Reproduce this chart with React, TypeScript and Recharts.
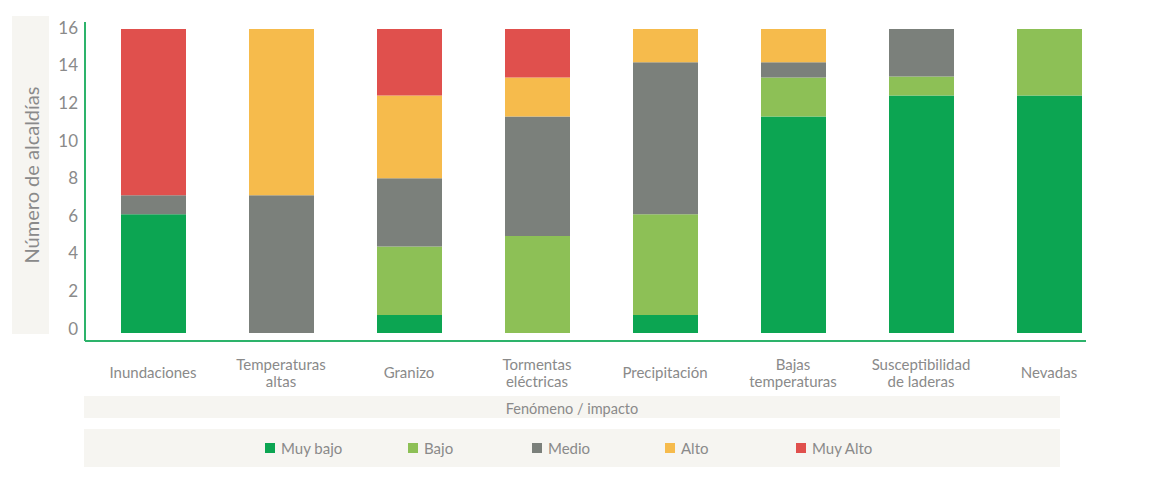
import React from "react";
import { BarChart, Bar, XAxis, YAxis, Legend } from "recharts";

// ---- data ----
const categories = [
  "Inundaciones",
  "Temperaturas\naltas",
  "Granizo",
  "Tormentas\neléctricas",
  "Precipitación",
  "Bajas\ntemperaturas",
  "Susceptibilidad\nde laderas",
  "Nevadas",
];
const muyBajo = [6.25, 0, 0.95, 0, 0.95, 11.4, 12.5, 12.5];
const bajo = [0, 0, 3.6, 5.1, 5.3, 2.05, 1.0, 3.5];
const medio = [1.0, 7.25, 3.6, 6.3, 8.0, 0.8, 2.5, 0];
const alto = [0, 8.75, 4.35, 2.05, 1.75, 1.75, 0, 0];
const muyAlto = [8.75, 0, 3.5, 2.55, 0, 0, 0, 0];
const seriesNames = ["Muy bajo", "Bajo", "Medio", "Alto", "Muy Alto"];
const yTicks = [0, 2, 4, 6, 8, 10, 12, 14, 16];
const yAxisTitle = "Número de alcaldías";
const xAxisTitle = "Fenómeno / impacto";

// ---- styles ----
const COLORS = ["#0ca552", "#8dc056", "#7b807b", "#f6bb4c", "#e0504d"];
const AXIS_GREEN = "#2db36b";
const BAND = "#f6f5f1";
const TEXT = "#8a8a8a";
const FONT = "Lato, 'Open Sans', sans-serif";
const LEGEND_OFFSETS = [181, 324, 448, 581, 712];

const data = categories.map((c, i) => ({
  name: c,
  muyBajo: muyBajo[i],
  bajo: bajo[i],
  medio: medio[i],
  alto: alto[i],
  muyAlto: muyAlto[i],
}));
const keys = ["muyBajo", "bajo", "medio", "alto", "muyAlto"];

const XTick = (props: any) => {
  const { x, y, payload } = props;
  const lines = String(payload.value).split("\n");
  const lh = 17;
  const first = y + 31 - ((lines.length - 1) * lh) / 2;
  return (
    <text x={x} y={first} textAnchor="middle" fill={TEXT} fontSize={15} fontFamily={FONT} dominantBaseline="central">
      {lines.map((l, i) => (
        <tspan key={i} x={x} y={first + i * lh}>
          {l}
        </tspan>
      ))}
    </text>
  );
};

const YTick = (props: any) => {
  const { x, y, payload } = props;
  const v = Number(payload.value);
  return (
    <text x={x} y={y - 5 + 0.2 * v} textAnchor="end" fill={TEXT} fontSize={17} fontFamily={FONT} dominantBaseline="central">
      {payload.value}
    </text>
  );
};

const YLabel = () => {
  const cy = 167;
  return (
    <g>
      <rect x={4} y={8} width={37} height={318} fill={BAND} />
      <text
        x={23}
        y={cy}
        transform={`rotate(-90, 23, ${cy})`}
        textAnchor="middle"
        dominantBaseline="central"
        fill={TEXT}
        fontSize={20}
        fontFamily={FONT}
      >
        {yAxisTitle}
      </text>
    </g>
  );
};

const XLabel = (props: any) => {
  const vb = props.viewBox || { x: 77, y: 333, width: 1001, height: 88 };
  const bx = vb.x - 1;
  const by = vb.y + 55;
  return (
    <g>
      <rect x={bx} y={by} width={976} height={22} fill={BAND} />
      <text x={bx + 488} y={by + 12} textAnchor="middle" dominantBaseline="central" fill={TEXT} fontSize={14.5} fontFamily={FONT}>
        {xAxisTitle}
      </text>
    </g>
  );
};

const renderLegend = (props: any) => {
  const payload = [...(props.payload || [])].sort(
    (a: any, b: any) => seriesNames.indexOf(a.value) - seriesNames.indexOf(b.value)
  );
  return (
    <div style={{ position: "relative", width: 976, height: 38, background: BAND, fontFamily: FONT }}>
      {payload.map((p: any, i: number) => (
        <div
          key={i}
          style={{
            position: "absolute",
            left: LEGEND_OFFSETS[i],
            top: 0,
            height: 38,
            display: "flex",
            alignItems: "center",
            whiteSpace: "nowrap",
          }}
        >
          <span style={{ display: "inline-block", width: 10, height: 10, background: p.color, marginRight: 6 }} />
          <span style={{ color: TEXT, fontSize: 15 }}>{p.value}</span>
        </div>
      ))}
    </div>
  );
};

export default function App() {
  return (
    <div style={{ width: 1140, height: 462, fontFamily: FONT, background: "#fff" }}>
      <BarChart
        width={1140}
        height={459}
        data={data}
        margin={{ top: 14, right: 62, bottom: 0, left: 0 }}
        barSize={65}
      >
        <XAxis
          dataKey="name"
          height={88}
          tickLine={false}
          tickSize={0}
          tickMargin={0}
          axisLine={{ stroke: AXIS_GREEN, strokeWidth: 2 }}
          padding={{ left: 4, right: -27 }}
          tick={<XTick />}
          interval={0}
          label={<XLabel />}
        />
        <YAxis
          type="number"
          width={77}
          domain={[-0.42, 16.37]}
          allowDataOverflow
          ticks={yTicks}
          interval={0}
          tickLine={false}
          tickSize={0}
          tickMargin={7}
          axisLine={{ stroke: AXIS_GREEN, strokeWidth: 2 }}
          tick={<YTick />}
          label={<YLabel />}
        />
        <Legend
          verticalAlign="bottom"
          align="left"
          height={38}
          wrapperStyle={{ left: 76, width: 976, bottom: 0 }}
          content={renderLegend}
        />
        {keys.map((k, i) => (
          <Bar key={k} dataKey={k} name={seriesNames[i]} stackId="a" fill={COLORS[i]} isAnimationActive={false} />
        ))}
      </BarChart>
    </div>
  );
}
